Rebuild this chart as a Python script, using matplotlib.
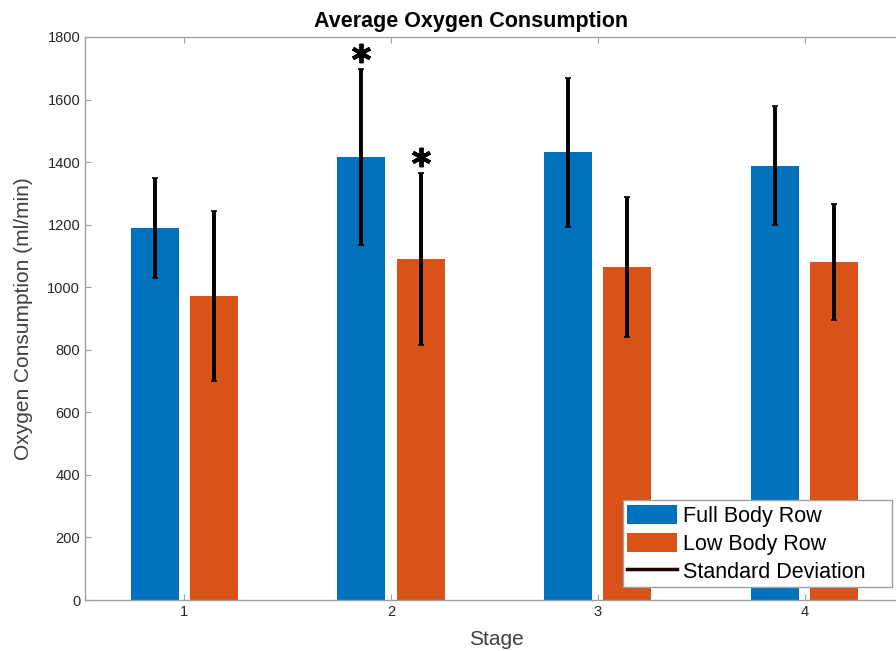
import numpy as np
import matplotlib.pyplot as plt
from matplotlib.patches import Patch
from matplotlib.lines import Line2D

plt.rcParams['font.family'] = ['Liberation Sans', 'DejaVu Sans']

# values
stages = [1, 2, 3, 4]
full_body = [1189, 1416, 1432, 1388]
full_body_sd = [160, 282, 238, 190]
low_body = [972, 1090, 1064, 1081]
low_body_sd = [272, 275, 224, 185]
# significance markers (stage index)
sig_full = [1]
sig_low = [1]

blue = "#0072BD"
orange = "#D95319"

fig = plt.figure(figsize=(8.96, 6.51), dpi=100)
ax = fig.add_axes([85 / 896, 51 / 651, 823 / 896, 563 / 651])

x = np.array(stages)
w = 0.232
off = 0.143

ax.bar(x - off, full_body, w, color=blue, zorder=2)
ax.bar(x + off, low_body, w, color=orange, zorder=2)
ax.errorbar(x - off, full_body, yerr=full_body_sd, fmt="none", ecolor="black",
            elinewidth=2.8, capsize=2, capthick=1.2, zorder=3)
ax.errorbar(x + off, low_body, yerr=low_body_sd, fmt="none", ecolor="black",
            elinewidth=2.8, capsize=2, capthick=1.2, zorder=3)

# asterisks above the error bars
for i in sig_full:
    ax.plot(x[i] - off, full_body[i] + full_body_sd[i] + 52, marker=(6, 2, 0),
            color="black", markersize=14, mew=2.8, zorder=4)
for i in sig_low:
    ax.plot(x[i] + off, low_body[i] + low_body_sd[i] + 52, marker=(6, 2, 0),
            color="black", markersize=14, mew=2.8, zorder=4)

ax.set_xlim(0.52, 4.5)
ax.set_ylim(0, 1800)
ax.set_xticks(stages)
ax.set_yticks(np.arange(0, 1801, 200))
ax.tick_params(direction="in", length=4, labelsize=10.5, colors="#a0a0a0",
               labelcolor="#262626", top=True, right=True)
for s in ax.spines.values():
    s.set_color("#a0a0a0")
    s.set_linewidth(1)

# original figure is cropped on the right, so the title sits left of the axes centre
ax.set_title("Average Oxygen Consumption", fontsize=15.5, fontweight="bold",
             pad=7, x=(471 - 85) / 823)
ax.set_xlabel("Stage", fontsize=15, color="#404040", labelpad=8)
ax.set_ylabel("Oxygen Consumption (ml/min)", fontsize=15, color="#404040", labelpad=10)

handles = [Patch(facecolor=blue), Patch(facecolor=orange),
           Line2D([0], [0], color="#1a0505", lw=2.5)]
labels = ["Full Body Row", "Low Body Row", "Standard Deviation"]
leg = ax.legend(handles, labels, loc="lower left", mode="expand",
                bbox_to_anchor=(623 / 896, (651 - 587) / 651, 269 / 896, 86 / 651),
                bbox_transform=fig.transFigure, fontsize=15.5, fancybox=False,
                framealpha=1, edgecolor="#a0a0a0", borderpad=0.2,
                labelspacing=0.28, handlelength=2.3, handleheight=1.0,
                handletextpad=0.3, borderaxespad=0)
leg.get_frame().set_linewidth(1)

plt.savefig("out.png", dpi=100)
